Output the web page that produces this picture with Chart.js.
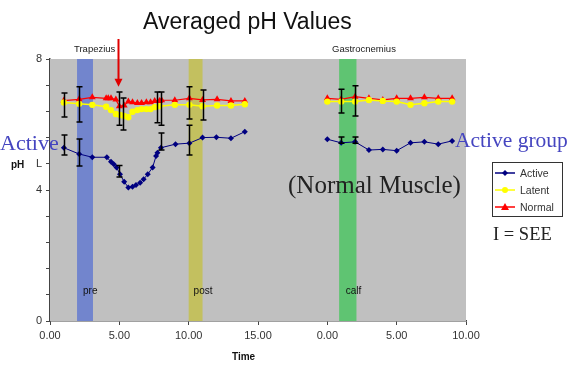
<!DOCTYPE html>
<html>
<head>
<meta charset="utf-8">
<script src="https://cdn.jsdelivr.net/npm/chart.js@4.4.1/dist/chart.umd.min.js"></script>
<style>
  body { margin: 0; background: #fff; }
  #wrap { position: relative; width: 571px; height: 390px; overflow: hidden; }
  #myChart { position: absolute; left: 0; top: 0; }
  .txt { position: absolute; white-space: nowrap; line-height: 1; }
  .sans { font-family: "Liberation Sans", Arial, sans-serif; }
  .serif { font-family: "Liberation Serif", "Times New Roman", serif; }
  #legend { position: absolute; left: 492px; top: 162px; width: 71px; height: 55px;
            border: 1px solid #333; background: #fff; box-sizing: border-box;
            font-family: "Liberation Sans", Arial, sans-serif; }
  #legend .row { position: absolute; left: 2px; height: 14px; }
  #legend span { position: absolute; left: 25px; top: 1px; font-size: 10.5px; color: #333; }
</style>
</head>
<body>
<div id="wrap">
  <canvas id="myChart" width="571" height="390"></canvas>

  <div class="txt sans" style="left:143px;top:10px;font-size:23px;color:#111;">Averaged pH Values</div>
  <div class="txt sans" style="left:74px;top:44px;font-size:9.5px;color:#222;">Trapezius</div>
  <div class="txt sans" style="left:332px;top:44px;font-size:9.5px;color:#222;">Gastrocnemius</div>
  <div class="txt sans" style="left:11px;top:160px;font-size:10px;font-weight:bold;color:#111;">pH</div>
  <div class="txt sans" style="left:232px;top:352px;font-size:10px;font-weight:bold;color:#111;">Time</div>

  <div class="txt serif" style="left:0px;top:132px;font-size:22px;color:#4545c0;">Active</div>
  <div class="txt serif" style="left:455px;top:130px;font-size:21.5px;color:#4545c0;">Active group</div>
  <div class="txt serif" style="left:288px;top:172px;font-size:25px;color:#222;">(Normal Muscle)</div>
  <div class="txt serif" style="left:493px;top:225px;font-size:18.5px;color:#222;">I = SEE</div>

  <div id="legend">
    <div class="row" style="top:3px;">
      <svg width="24" height="14"><line x1="0" y1="7" x2="20" y2="7" stroke="#000080" stroke-width="1.5"/>
        <polygon points="10,4 13,7 10,10 7,7" fill="#000080"/></svg>
      <span>Active</span>
    </div>
    <div class="row" style="top:20px;">
      <svg width="24" height="14"><line x1="0" y1="7" x2="20" y2="7" stroke="#ffff00" stroke-width="1.5"/>
        <circle cx="10" cy="7" r="3" fill="#ffff00"/></svg>
      <span>Latent</span>
    </div>
    <div class="row" style="top:37px;">
      <svg width="24" height="14"><line x1="0" y1="7" x2="20" y2="7" stroke="#ff0000" stroke-width="1.5"/>
        <polygon points="10,3 14,10 6,10" fill="#ff0000"/></svg>
      <span>Normal</span>
    </div>
  </div>
</div>

<script>
// Trapezius session (left panel), time in minutes
var trapActiveTime = [1, 2.1, 3.05, 4.1, 4.4, 4.6, 4.8, 5.05, 5.35, 5.65, 5.95, 6.2, 6.5, 6.75, 7.05, 7.4, 7.65, 7.75, 8, 9.05, 10.05, 11, 12, 13.05, 14.05];
var trapActivePH   = [5.29, 5.10, 5.00, 5.00, 4.86, 4.79, 4.69, 4.48, 4.25, 4.08, 4.10, 4.15, 4.22, 4.33, 4.48, 4.69, 5.04, 5.14, 5.29, 5.40, 5.43, 5.60, 5.61, 5.58, 5.78];

var trapLatentTime = [1, 2.1, 3.05, 4.05, 4.4, 4.75, 5.05, 5.35, 5.65, 5.95, 6.3, 6.6, 6.95, 7.25, 7.55, 7.9, 9, 10.05, 11, 12.05, 13.05, 14.05];
var trapLatentPH   = [6.67, 6.63, 6.60, 6.54, 6.44, 6.32, 6.29, 6.26, 6.22, 6.39, 6.44, 6.47, 6.47, 6.47, 6.53, 6.56, 6.60, 6.60, 6.56, 6.58, 6.58, 6.62];

var trapNormalTime = [1, 2.1, 3.05, 4.05, 4.2, 4.4, 4.75, 5.0, 5.35, 5.65, 5.95, 6.3, 6.6, 6.95, 7.25, 7.55, 7.9, 8.05, 9, 10.05, 11, 12.05, 13.05, 14.05];
var trapNormalPH   = [6.73, 6.77, 6.83, 6.80, 6.80, 6.80, 6.76, 6.56, 6.58, 6.70, 6.68, 6.66, 6.66, 6.68, 6.68, 6.72, 6.72, 6.74, 6.74, 6.80, 6.75, 6.77, 6.72, 6.72];

// Gastrocnemius session (right panel)
var gastroTime   = [0, 1, 2, 3, 4, 5, 6, 7, 8, 9];
var gastroActive = [5.55, 5.44, 5.47, 5.22, 5.24, 5.20, 5.44, 5.47, 5.40, 5.50];
var gastroLatent = [6.70, 6.70, 6.70, 6.75, 6.72, 6.70, 6.60, 6.65, 6.70, 6.70];
var gastroNormal = [6.80, 6.77, 6.85, 6.80, 6.75, 6.80, 6.80, 6.83, 6.80, 6.80];
var gastroOffset = 20; // right panel starts at 20 on the shared axis

// SEE error bars (shared axis time, low, high)
var errTime = [1, 1, 2.1, 2.1, 5.0, 5.0, 5.3, 7.7, 8.0, 8.0, 10, 10, 11, 21, 21, 22, 22];
var errLow  = [6.23, 5.07, 6.08, 4.73, 5.98, 4.40, 5.83, 6.05, 5.98, 5.22, 6.17, 5.07, 6.14, 6.35, 5.43, 6.26, 5.43];
var errHigh = [6.96, 5.68, 7.15, 5.56, 6.99, 4.75, 6.81, 6.99, 6.99, 5.74, 7.15, 5.98, 7.05, 7.08, 5.62, 7.18, 5.62];

// shaded phases: pre, post, calf
var bandNames = ['pre', 'post', 'calf'];
var bandStart = [1.95, 10.0, 20.85];
var bandEnd   = [3.1, 11.0, 22.1];

// axis ticks
var xTickValues = [0, 5, 10, 15, 20, 25, 30];
var xTickLabels = ['0.00', '5.00', '10.00', '15.00', '0.00', '5.00', '10.00'];
var yTickValues = [0, 4, 4.8, 8];
var yTickLabels = ['0', '4', 'L', '8'];

var arrowTime = 4.9;
var arrowTipPH = 7.15;

var bandColors = ['rgba(110,130,205,0.95)', 'rgba(195,192,90,0.95)', 'rgba(90,196,110,0.95)'];

function joinSeries(t1, v1, t2, v2) {
    var pts = [];
    for (var i = 0; i < t1.length; i++) pts.push({ x: t1[i], y: v1[i] });
    pts.push({ x: (t1[t1.length - 1] + t2[0] + gastroOffset) / 2, y: null });
    for (var j = 0; j < t2.length; j++) pts.push({ x: t2[j] + gastroOffset, y: v2[j] });
    return pts;
}

var bgPlugin = {
    id: 'bg',
    beforeDatasetsDraw: function (chart) {
        var c = chart.ctx, a = chart.chartArea, xs = chart.scales.x;
        c.save();
        c.fillStyle = '#c0c0c0';
        c.fillRect(a.left, a.top, a.right - a.left, a.bottom - a.top);
        for (var i = 0; i < bandNames.length; i++) {
            var x1 = xs.getPixelForValue(bandStart[i]);
            var x2 = xs.getPixelForValue(bandEnd[i]);
            c.fillStyle = bandColors[i];
            c.fillRect(x1, a.top, x2 - x1, a.bottom - a.top);
            c.fillStyle = '#111';
            c.font = '10px "Liberation Sans", Arial, sans-serif';
            c.textBaseline = 'middle';
            c.fillText(bandNames[i], (x1 + x2) / 2 - 2, chart.scales.y.getPixelForValue(0.9));
        }
        c.restore();
    }
};

var errPlugin = {
    id: 'errbars',
    afterDatasetsDraw: function (chart) {
        var c = chart.ctx, xs = chart.scales.x, ys = chart.scales.y;
        c.save();
        c.strokeStyle = '#000';
        c.lineWidth = 1.5;
        for (var i = 0; i < errTime.length; i++) {
            var x = Math.round(xs.getPixelForValue(errTime[i])) + 0.5;
            var y1 = ys.getPixelForValue(errLow[i]);
            var y2 = ys.getPixelForValue(errHigh[i]);
            c.beginPath();
            c.moveTo(x, y1); c.lineTo(x, y2);
            c.moveTo(x - 3, y1); c.lineTo(x + 3, y1);
            c.moveTo(x - 3, y2); c.lineTo(x + 3, y2);
            c.stroke();
        }
        // red arrow marking the onset
        var ax = Math.round(xs.getPixelForValue(arrowTime)) + 0.5;
        var tip = ys.getPixelForValue(arrowTipPH);
        c.strokeStyle = '#e00000';
        c.fillStyle = '#e00000';
        c.lineWidth = 2;
        c.beginPath();
        c.moveTo(ax, chart.chartArea.top - 20);
        c.lineTo(ax, tip - 6);
        c.stroke();
        c.beginPath();
        c.moveTo(ax - 4, tip - 8); c.lineTo(ax + 4, tip - 8); c.lineTo(ax, tip);
        c.closePath();
        c.fill();
        c.restore();
    }
};

var ctx = document.getElementById('myChart').getContext('2d');
var myChart = new Chart(ctx, {
    type: 'line',
    data: {
        datasets: [{
            label: 'Latent',
            data: joinSeries(trapLatentTime, trapLatentPH, gastroTime, gastroLatent),
            borderColor: '#ffff00',
            backgroundColor: '#ffff00',
            borderWidth: 1.5,
            pointStyle: 'circle',
            pointRadius: 3.2,
            pointBorderWidth: 0
        }, {
            label: 'Normal',
            data: joinSeries(trapNormalTime, trapNormalPH, gastroTime, gastroNormal),
            borderColor: '#ff0000',
            backgroundColor: '#ff0000',
            borderWidth: 1.2,
            pointStyle: 'triangle',
            pointRadius: 4,
            pointBorderWidth: 0
        }, {
            label: 'Active',
            data: joinSeries(trapActiveTime, trapActivePH, gastroTime, gastroActive),
            borderColor: '#000080',
            backgroundColor: '#000080',
            borderWidth: 1,
            pointStyle: 'rectRot',
            pointRadius: 3,
            pointBorderWidth: 0
        }]
    },
    options: {
        responsive: false,
        animation: false,
        spanGaps: false,
        layout: { padding: { top: 59, right: 105, left: 0, bottom: 0 } },
        plugins: {
            legend: { display: false },
            title: { display: false },
            tooltip: { enabled: false }
        },
        scales: {
            x: {
                type: 'linear',
                min: 0,
                max: 30,
                afterFit: function (scale) { scale.height = 69; },
                afterBuildTicks: function (scale) {
                    scale.ticks = xTickValues.map(function (v) { return { value: v }; });
                },
                ticks: {
                    autoSkip: false,
                    maxRotation: 0,
                    color: '#333',
                    padding: 4,
                    font: { family: '"Liberation Sans", Arial, sans-serif', size: 11 },
                    callback: function (v) {
                        var i = xTickValues.indexOf(v);
                        return i >= 0 ? xTickLabels[i] : '';
                    }
                },
                grid: { drawOnChartArea: false, drawTicks: true, tickLength: 4, color: '#444' },
                border: { display: true, color: '#444', width: 1.5 }
            },
            y: {
                min: 0,
                max: 8,
                afterFit: function (scale) { scale.width = 50; },
                ticks: {
                    stepSize: 0.8,
                    color: '#333',
                    padding: 4,
                    font: { family: '"Liberation Sans", Arial, sans-serif', size: 11 },
                    callback: function (v) {
                        for (var i = 0; i < yTickValues.length; i++) {
                            if (Math.abs(v - yTickValues[i]) < 1e-6) return yTickLabels[i];
                        }
                        return '';
                    }
                },
                grid: { drawOnChartArea: false, drawTicks: true, tickLength: 4, color: '#444' },
                border: { display: true, color: '#444', width: 1.5 }
            }
        }
    },
    plugins: [bgPlugin, errPlugin]
});
</script>
</body>
</html>
